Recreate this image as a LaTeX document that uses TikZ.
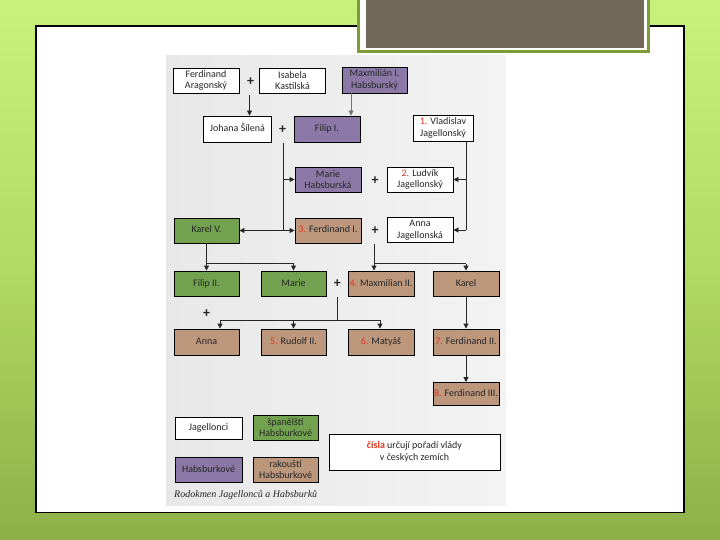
\documentclass[tikz,border=0pt]{standalone}
\usepackage{fontspec}
\setmainfont{Carlito}
\newfontfamily\capfont{Liberation Serif}
\usetikzlibrary{arrows.meta,calc}
\definecolor{purp}{HTML}{8C78A6}
\definecolor{grn}{HTML}{72A24F}
\definecolor{brn}{HTML}{BC977C}
\definecolor{numred}{HTML}{E2351F}
\definecolor{bgtop}{HTML}{C9F27C}
\definecolor{bgmid}{HTML}{B0DA62}
\definecolor{bgbot}{HTML}{8DAF48}
\definecolor{tgreen}{HTML}{7C9C36}
\definecolor{tdark}{HTML}{716858}
\definecolor{scanl}{HTML}{E8E8E8}
\definecolor{scanr}{HTML}{F3F3F3}
\newcommand{\nr}[1]{\textcolor{numred}{#1}}
\tikzset{
  box/.style={draw=black, line width=0.9pt, minimum height=25pt, minimum width=66pt,
    inner sep=1pt, align=center, font=\fontsize{10}{11.5}\selectfont, text=black!85},
  one/.style={text height=7pt, text depth=2pt},
  wbox/.style={box, fill=white},
  pbox/.style={box, fill=purp},
  gbox/.style={box, fill=grn},
  bbox/.style={box, fill=brn},
  plus/.style={font=\bfseries\fontsize{14}{14}\selectfont, inner sep=0pt, text=black!85},
  conn/.style={line width=0.9pt, draw=black!85},
  arr/.style={conn, -{Triangle[length=5pt,width=5pt]}},
}
\begin{document}
\begin{tikzpicture}[x=1pt,y=-1pt]
\useasboundingbox (0,0) rectangle (720,540);
% background
\shade[top color=bgtop, bottom color=bgbot, middle color=bgmid] (0,0) rectangle (720,540);
\draw[fill=white, line width=1.3pt] (36,26) rectangle (684,512.5);
% title box
\fill[tgreen] (357,-2) rectangle (649.5,53);
\fill[white] (360,-2) rectangle (646.5,50.5);
\fill[tdark] (366,-2) rectangle (643.5,48);
% scan area
\shade[left color=scanl, right color=scanr] (166,56) rectangle (506,505);

% row 1
\node[wbox] (FA) at (206,80.5) {Ferdinand\\Aragonský};
\node[plus] (p1) at (250.7,81.5) {+};
\node[wbox] (IK) at (292.5,80.5) {Isabela\\Kastilská};
\node[pbox, minimum width=65pt, minimum height=26pt] (MI) at (374.5,80) {Maxmilián I.\\Habsburský};
% row 2
\node[wbox, one, minimum width=68pt, minimum height=26pt] (JS) at (237.5,129) {Johana Šílená};
\node[plus] (p2) at (282.7,130) {+};
\node[pbox, one, minimum height=26pt] (F1) at (327,129) {Filip I.};
\node[wbox, minimum width=60pt, minimum height=26pt] (V) at (443,128) {\nr{1.} Vladislav\\Jagellonský};
% row 3
\node[pbox] (MH) at (328,179.5) {Marie\\Habsburská};
\node[plus] (p3) at (375,181) {+};
\node[wbox] (L) at (420,179.5) {\nr{2.} Ludvík\\Jagellonský};
% row 4
\node[gbox, one, minimum width=65pt] (KV) at (206.5,230.5) {Karel V.};
\node[bbox, one] (FI) at (328,230.5) {\nr{3.} Ferdinand I.};
\node[plus] (p4) at (375,231) {+};
\node[wbox] (AJ) at (420,230) {Anna\\Jagellonská};
% row 5
\node[gbox, one, minimum width=65pt] (F2) at (206.5,283.5) {Filip II.};
\node[gbox, one, minimum width=65pt] (M) at (293.5,283.5) {Marie};
\node[plus] (p5) at (337.3,284) {+};
\node[bbox, one] (MX) at (381,283.5) {\nr{4.} Maxmilian II.};
\node[bbox, one] (K) at (466,283.5) {Karel};
\node[plus] (p6) at (206.7,313.3) {+};
% row 6
\node[bbox, one, minimum width=65pt, minimum height=26pt] (A) at (206.5,342) {Anna};
\node[bbox, one, minimum width=65pt, minimum height=26pt] (R) at (293.5,342) {\nr{5.} Rudolf II.};
\node[bbox, one, minimum height=26pt] (MT) at (381,342) {\nr{6.} Matyáš};
\node[bbox, one, minimum height=26pt] (FII) at (466,342) {\nr{7.} Ferdinand II.};
% row 7
\node[bbox, one, minimum height=23pt] (FIII) at (466,394) {\nr{8.} Ferdinand III.};
% legend
\node[wbox, one, minimum width=67pt, minimum height=22pt] (LJ) at (208.5,428) {Jagellonci};
\node[gbox, minimum width=65pt] (LS) at (285.5,427.5) {španělští\\Habsburkové};
\node[pbox, one, minimum width=67pt] (LH) at (208.5,469.5) {Habsburkové};
\node[bbox, minimum width=65pt] (LR) at (285.5,469.5) {rakouští\\Habsburkové};
\node[wbox, minimum width=171pt, minimum height=36pt] (LC) at (414.5,452) {\textcolor{numred}{\bfseries čísla} určují pořadí vlády\\v českých zemích};
\node[anchor=west, inner sep=0pt, font=\capfont\itshape\fontsize{10}{10}\selectfont, text=black!85] (cap) at (174,495) {Rodokmen Jagellonců a Habsburků};

% connectors
\coordinate (c1) at (249.5,95);
\draw[arr] (c1) -- (c1 |- JS.north);
\coordinate (c2) at (351,0);
\draw[arr, draw=black!55] (c2 |- MI.south) -- (c2 |- F1.north);

\coordinate (t1) at (283,143);
\coordinate (j1) at (283,230.5);
\draw[conn] (t1) -- (j1);
\draw[arr] (t1 |- MH.west) -- (MH.west);
\draw[arr] (j1) -- (FI.west);
\draw[arr] (j1) -- (KV.east);

\coordinate (v1) at (466,0);
\draw[conn] (v1 |- V.south) -- (v1 |- AJ.east);
\draw[arr] (v1 |- L.east) -- (L.east);
\draw[arr] (v1 |- AJ.east) -- (AJ.east);

\coordinate (h1) at (0,263.5);
\draw[conn] (KV.south) -- (KV.south |- h1) -- (M.north |- h1);
\draw[arr] (F2.north |- h1) -- (F2.north);
\draw[arr] (M.north |- h1) -- (M.north);

\coordinate (t4) at (374,244);
\draw[conn] (t4) -- (t4 |- h1) -- (K.north |- h1);
\draw[arr] (t4 |- h1) -- (t4 |- MX.north);
\draw[arr] (K.north |- h1) -- (K.north);

\coordinate (t5) at (337.5,297);
\coordinate (h2) at (0,320);
\coordinate (a1) at (220,320);
\coordinate (a3) at (380,320);
\draw[conn] (t5) -- (t5 |- h2);
\draw[conn] (a1) -- (a3);
\draw[arr] (a1) -- (a1 |- A.north);
\draw[arr] (R.north |- h2) -- (R.north);
\draw[arr] (a3) -- (a3 |- MT.north);

\draw[arr] (K.south) -- (FII.north);
\draw[arr] (FII.south) -- (FIII.north);
\end{tikzpicture}
\end{document}
